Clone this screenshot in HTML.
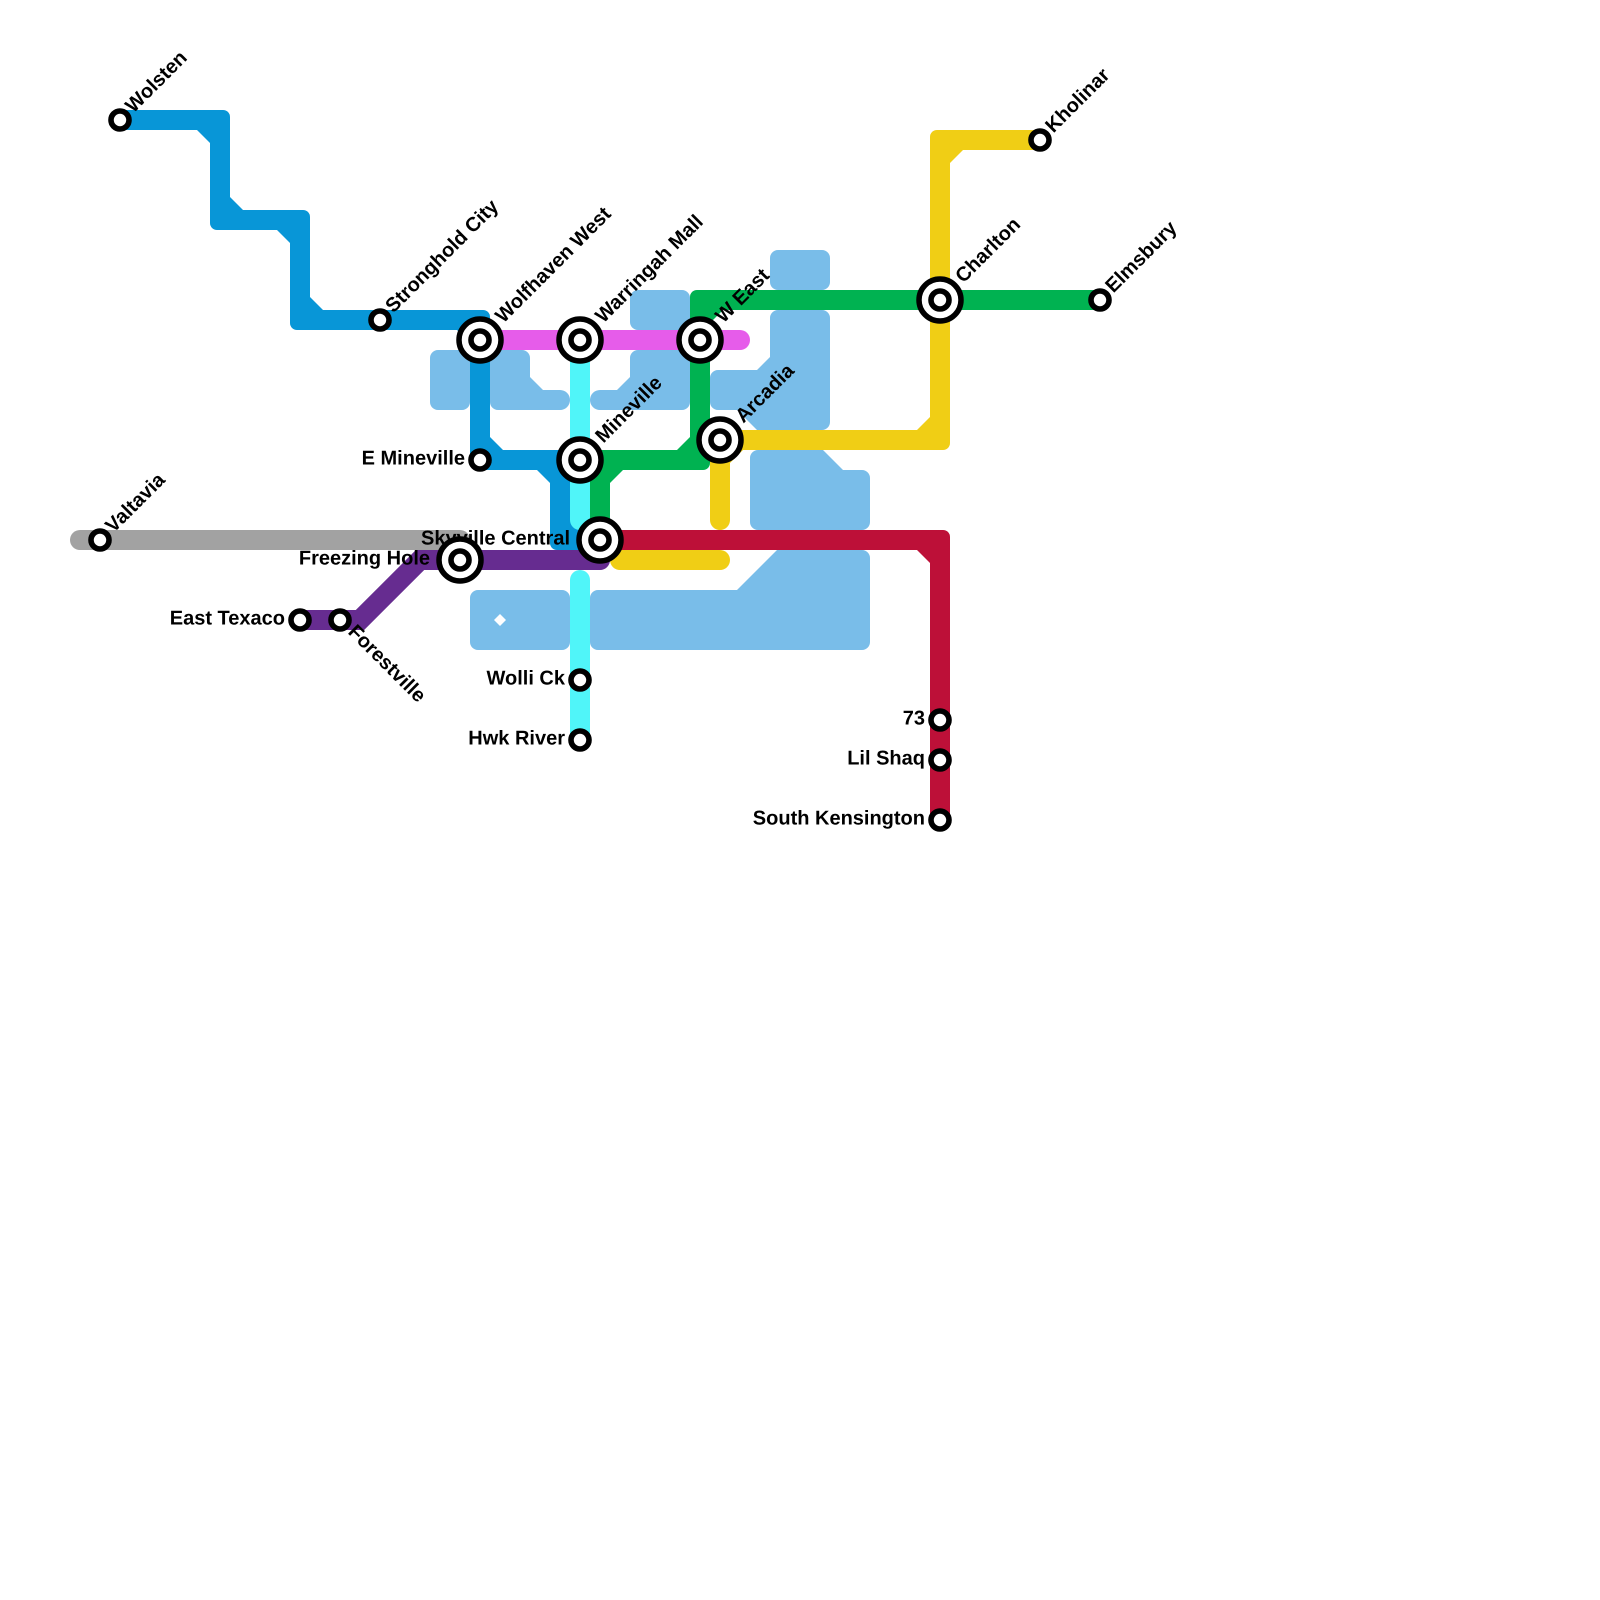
<!DOCTYPE html>
<html>
<head>
<meta charset="utf-8">
<style>
html,body{margin:0;padding:0;background:#fff}
svg{display:block}
text{font-family:"Liberation Sans",sans-serif;font-weight:bold;font-size:20px;fill:#000;text-rendering:geometricPrecision}
.l{fill:none;stroke-width:20;stroke-linejoin:round;stroke-linecap:round}
.o{fill:#fff;stroke:#000;stroke-width:5.6}
.r{fill:#fff;stroke:#000;stroke-width:5.5}
</style>
</head>
<body>
<svg width="1600" height="1600" viewBox="0 0 1600 1600" xmlns="http://www.w3.org/2000/svg">
<rect width="1600" height="1600" fill="#fff"/>
<!-- water -->
<g fill="#79bde9">
<rect x="770" y="250" width="60" height="40" rx="8"/>
<rect x="430" y="350" width="40" height="60" rx="8"/>
<path d="M500,350H522A8,8 0 0 1 530,358V377L543,390H560A10,10 0 0 1 560,410H498A8,8 0 0 1 490,402V350Z"/>
<path d="M600,390H617L630,377V358A8,8 0 0 1 638,350H690V402A8,8 0 0 1 682,410H600A10,10 0 0 1 600,390Z"/>
<rect x="630" y="290" width="60" height="40" rx="8"/>
<path d="M718,370H757L770,357V318A8,8 0 0 1 778,310H822A8,8 0 0 1 830,318V422A8,8 0 0 1 822,430H757L737,410H718A8,8 0 0 1 710,402V378A8,8 0 0 1 718,370Z"/>
<path d="M758,450H823L843,470H862A8,8 0 0 1 870,478V522A8,8 0 0 1 862,530H758A8,8 0 0 1 750,522V458A8,8 0 0 1 758,450Z"/>
<rect x="470" y="590" width="100" height="60" rx="8"/>
<path d="M598,590H737L777,550H862A8,8 0 0 1 870,558V642A8,8 0 0 1 862,650H598A8,8 0 0 1 590,642V598A8,8 0 0 1 598,590Z"/>
</g>
<path d="M500,614L506,620L500,626L494,620Z" fill="#fff"/>
<!-- gray -->
<path class="l" stroke="#a2a2a2" d="M80,540H460"/>
<!-- blue -->
<g fill="#0896d7">
<path class="l" stroke="#0896d7" d="M120,120H220V220H300V320H480V460H560V540H600"/>
<rect x="210" y="110" width="20" height="20" rx="7"/><path d="M197,130H210V143Z"/>
<rect x="210" y="210" width="20" height="20" rx="7"/><path d="M230,197V210H243Z"/>
<rect x="290" y="210" width="20" height="20" rx="7"/><path d="M277,230H290V243Z"/>
<rect x="290" y="310" width="20" height="20" rx="7"/><path d="M310,297V310H323Z"/>
<rect x="470" y="310" width="20" height="20" rx="7"/><path d="M457,330H470V343Z"/>
<rect x="470" y="450" width="20" height="20" rx="7"/><path d="M490,437V450H503Z"/>
<rect x="550" y="450" width="20" height="20" rx="7"/><path d="M537,470H550V483Z"/>
<rect x="550" y="530" width="20" height="20" rx="7"/><path d="M570,517V530H583Z"/>
</g>
<!-- cyan -->
<path class="l" stroke="#50f5f9" d="M580,340V520M580,580V740"/>
<!-- magenta -->
<path class="l" stroke="#e65cea" d="M480,340H740"/>
<!-- green -->
<g fill="#00b251">
<path class="l" stroke="#00b251" d="M1100,300H700V460H600V540"/>
<rect x="690" y="290" width="20" height="20" rx="7"/><path d="M710,323V310H723Z"/>
<rect x="690" y="450" width="20" height="20" rx="7"/><path d="M677,450H690V437Z"/>
<rect x="590" y="450" width="20" height="20" rx="7"/><path d="M623,470H610V483Z"/>
</g>
<!-- yellow -->
<g fill="#f0ce15">
<path class="l" stroke="#f0ce15" d="M1040,140H940V440H720V520"/>
<path class="l" stroke="#f0ce15" d="M620,560H720"/>
<rect x="930" y="130" width="20" height="20" rx="7"/><path d="M963,150H950V163Z"/>
<rect x="930" y="430" width="20" height="20" rx="7"/><path d="M917,430H930V417Z"/>
<rect x="710" y="430" width="20" height="20" rx="7"/><path d="M743,450H730V463Z"/>
</g>
<!-- red -->
<g fill="#bd1038">
<path class="l" stroke="#bd1038" d="M600,540H940V820"/>
<rect x="930" y="530" width="20" height="20" rx="7"/><path d="M917,550H930V563Z"/>
</g>
<!-- purple -->
<path class="l" stroke="#662c90" style="stroke-linejoin:miter" d="M300,620H360L420,560H600"/>
<!-- labels -->
<g>
<text transform="translate(120 120) rotate(-45)" x="14" y="5">Wolsten</text>
<text transform="translate(380 320) rotate(-45)" x="14" y="5">Stronghold City</text>
<text transform="translate(480 340) rotate(-45)" x="28" y="5">Wolfhaven West</text>
<text transform="translate(580 340) rotate(-45)" x="28" y="5">Warringah Mall</text>
<text transform="translate(700 340) rotate(-45)" x="28" y="5">W East</text>
<text transform="translate(580 460) rotate(-45)" x="28" y="5">Mineville</text>
<text transform="translate(720 440) rotate(-45)" x="28" y="5">Arcadia</text>
<text transform="translate(940 300) rotate(-45)" x="28" y="5">Charlton</text>
<text transform="translate(1040 140) rotate(-45)" x="14" y="5">Kholinar</text>
<text transform="translate(1100 300) rotate(-45)" x="14" y="5">Elmsbury</text>
<text transform="translate(100 540) rotate(-45)" x="14" y="5">Valtavia</text>
<text transform="translate(340 620) rotate(45)" x="14" y="4">Forestville</text>
<text x="465" y="464.5" text-anchor="end">E Mineville</text>
<text x="570" y="544.5" text-anchor="end">Skyville Central</text>
<text x="430" y="564.5" text-anchor="end">Freezing Hole</text>
<text x="285" y="624.5" text-anchor="end">East Texaco</text>
<text x="565" y="684.5" text-anchor="end">Wolli Ck</text>
<text x="565" y="744.5" text-anchor="end">Hwk River</text>
<text x="925" y="724.5" text-anchor="end">73</text>
<text x="925" y="764.5" text-anchor="end">Lil Shaq</text>
<text x="925" y="824.5" text-anchor="end">South Kensington</text>
</g>
<!-- small stations -->
<g class="o">
<circle cx="120" cy="120" r="9"/>
<circle cx="380" cy="320" r="9"/>
<circle cx="480" cy="460" r="9"/>
<circle cx="100" cy="540" r="9"/>
<circle cx="300" cy="620" r="9"/>
<circle cx="340" cy="620" r="9"/>
<circle cx="580" cy="680" r="9"/>
<circle cx="580" cy="740" r="9"/>
<circle cx="940" cy="720" r="9"/>
<circle cx="940" cy="760" r="9"/>
<circle cx="940" cy="820" r="9"/>
<circle cx="1040" cy="140" r="9"/>
<circle cx="1100" cy="300" r="9"/>
</g>
<!-- interchanges -->
<g>
<circle class="r" cx="480" cy="340" r="21"/><circle class="o" cx="480" cy="340" r="9"/>
<circle class="r" cx="580" cy="340" r="21"/><circle class="o" cx="580" cy="340" r="9"/>
<circle class="r" cx="700" cy="340" r="21"/><circle class="o" cx="700" cy="340" r="9"/>
<circle class="r" cx="580" cy="460" r="21"/><circle class="o" cx="580" cy="460" r="9"/>
<circle class="r" cx="720" cy="440" r="21"/><circle class="o" cx="720" cy="440" r="9"/>
<circle class="r" cx="600" cy="540" r="21"/><circle class="o" cx="600" cy="540" r="9"/>
<circle class="r" cx="460" cy="560" r="21"/><circle class="o" cx="460" cy="560" r="9"/>
<circle class="r" cx="940" cy="300" r="21"/><circle class="o" cx="940" cy="300" r="9"/>
</g>
</svg>
</body>
</html>
